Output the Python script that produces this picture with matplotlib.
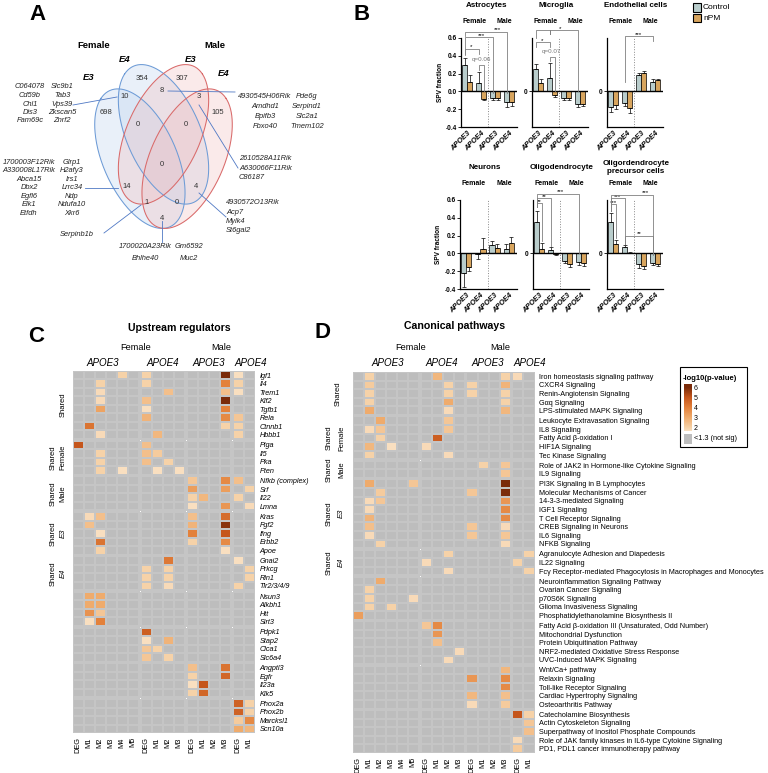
import numpy as np
import matplotlib
matplotlib.use('Agg')
import matplotlib.pyplot as plt
from matplotlib.colors import LinearSegmentedColormap, Normalize
from matplotlib.patches import Rectangle

plt.rcParams['font.family'] = ['Liberation Sans', 'DejaVu Sans']
plt.rcParams['axes.linewidth'] = 0.7

# ======================= DATA =======================
# ---- Panel A (Venn) ----
venn_sex = ['Female', 'Male']
venn_sets = ['E3', 'E4', 'E3', 'E4']
venn_counts = [698, 10, 354, 8, 307, 3, 105, 0, 0, 0, 14, 4, 1, 0, 4]
genes_10 = ['C064078', 'Cd59b', 'Chl1', 'Dis3', 'Fam69c',
            'Slc9b1', 'Tab3', 'Vps39', 'Zkscan5', 'Znrf2']
genes_8 = ['4930545H06Rik', 'Amdhd1', 'Bpifb3', 'Fbxo40',
           'Pde6g', 'Serpind1', 'Slc2a1', 'Tmem102']
genes_3 = ['2610528A11Rik', 'A630066F11Rik', 'C86187']
genes_14 = ['1700003F12Rik', 'A330008L17Rik', 'Abca15', 'Dbx2', 'Egfl6', 'Elk1', 'Etfdh',
            'Glrp1', 'H2afy3', 'Irs1', 'Lrrc34', 'Ndp', 'Ndufa10', 'Xkr6']
genes_1 = ['Serpinb1b']
genes_4r = ['4930572O13Rik', 'Acp7', 'Mylk4', 'St6gal2']
genes_4b = ['1700020A23Rik', 'Gm6592', 'Bhlhe40', 'Muc2']

# ---- Panel B (bars) ----
genotypes = ['APOE3', 'APOE4', 'APOE3', 'APOE4']
sexes = ['Female', 'Male']
treatments = ['Control', 'nPM']
cell_types = ['Astrocytes', 'Microglia', 'Endothelial cells',
              'Neurons', 'Oligodendrocyte', 'Oligordendrocyte\nprecursor cells']
astro_ctrl = [0.30, 0.09, -0.07, -0.12]
astro_ctrl_err = [0.08, 0.13, 0.03, 0.05]
astro_npm = [0.11, -0.09, -0.07, -0.12]
astro_npm_err = [0.07, 0.01, 0.03, 0.04]
micro_ctrl = [0.25, 0.15, -0.07, -0.14]
micro_ctrl_err = [0.06, 0.17, 0.03, 0.03]
micro_npm = [0.09, -0.04, -0.07, -0.14]
micro_npm_err = [0.05, 0.02, 0.03, 0.02]
endo_ctrl = [-0.18, -0.13, 0.18, 0.11]
endo_ctrl_err = [0.05, 0.03, 0.03, 0.03]
endo_npm = [-0.15, -0.19, 0.21, 0.13]
endo_npm_err = [0.05, 0.05, 0.02, 0.01]
neuro_ctrl = [-0.22, -0.01, 0.09, 0.05]
neuro_ctrl_err = [0.16, 0.05, 0.05, 0.05]
neuro_npm = [-0.15, 0.05, 0.06, 0.12]
neuro_npm_err = [0.05, 0.12, 0.04, 0.06]
oligo_ctrl = [0.35, 0.04, -0.08, -0.10]
oligo_ctrl_err = [0.13, 0.03, 0.03, 0.03]
oligo_npm = [0.05, -0.01, -0.12, -0.11]
oligo_npm_err = [0.07, 0.005, 0.03, 0.03]
opc_ctrl = [0.35, 0.07, -0.12, -0.11]
opc_ctrl_err = [0.10, 0.02, 0.04, 0.02]
opc_npm = [0.11, 0.01, -0.14, -0.12]
opc_npm_err = [0.04, 0.005, 0.03, 0.02]

# ---- Panels C/D (heatmaps) ----
hm_columns = ['DEG', 'M1', 'M2', 'M3', 'M4', 'M5', 'DEG', 'M1', 'M2', 'M3',
              'DEG', 'M1', 'M2', 'M3', 'DEG', 'M1']
hm_col_sizes = [6, 4, 4, 2]
hm_col_groups = ['APOE3', 'APOE4', 'APOE3', 'APOE4']
hm_group_labels = [('Shared', None), ('Shared', 'Female'), ('Shared', 'Male'),
                   ('Shared', 'E3'), ('Shared', 'E4'), None, None, None, None]

up_genes = ['Igf1', 'Il4', 'Trem1', 'Klf2', 'Tgfb1', 'Rela', 'Ctnnb1', 'Hbbb1',
            'Piga', 'Il5', 'Pka', 'Pten',
            'Nfkb (complex)', 'Srf', 'Il22', 'Lmna',
            'Kras', 'Fgf2', 'Ifng', 'Erbb2', 'Apoe',
            'Gnai2', 'Prkcg', 'Rln1', 'Tlr2/3/4/9',
            'Nsun3', 'Alkbh1', 'Htt', 'Sirt3',
            'Pdpk1', 'Stap2', 'Clca1', 'Slc6a4',
            'Angptl3', 'Egfr', 'Il23a', 'Klk5',
            'Phox2a', 'Phox2b', 'Marcksl1', 'Scn10a']
up_group_sizes = [8, 4, 4, 5, 4, 4, 4, 4, 4]
up_values = [
    [0, 0, 0, 0, 2.0, 0, 2.0, 0, 0, 0, 0, 0, 0, 6.0, 1.7, 0],
    [0, 0, 2.0, 0, 0, 0, 2.0, 0, 0, 0, 0, 0, 0, 4.0, 2.0, 0],
    [0, 0, 1.8, 0, 0, 0, 0, 0, 2.5, 0, 0, 0, 0, 2.5, 1.7, 0],
    [0, 0, 1.8, 0, 0, 0, 2.5, 0, 0, 0, 0, 0, 0, 6.0, 0, 0],
    [0, 0, 3.2, 0, 0, 0, 1.7, 0, 0, 0, 0, 0, 0, 4.0, 0, 0],
    [0, 0, 0, 0, 0, 0, 2.8, 0, 0, 0, 0, 0, 0, 3.8, 2.3, 0],
    [0, 4.3, 0, 0, 0, 0, 0, 0, 0, 0, 0, 0, 0, 2.0, 2.0, 0],
    [0, 0, 1.8, 0, 0, 0, 0, 2.7, 0, 0, 0, 0, 0, 0, 2.0, 0],
    [5.0, 0, 0, 0, 0, 0, 2.5, 0, 0, 0, 0, 0, 0, 0, 0, 0],
    [0, 0, 2.0, 0, 0, 0, 2.5, 2.2, 0, 0, 0, 0, 0, 0, 0, 0],
    [0, 0, 2.0, 0, 0, 0, 2.5, 0, 2.0, 0, 0, 0, 0, 0, 0, 0],
    [0, 0, 2.0, 0, 1.7, 0, 0, 1.7, 0, 1.7, 0, 0, 0, 0, 0, 0],
    [0, 0, 0, 0, 0, 0, 0, 0, 0, 0, 2.3, 0, 0, 3.8, 2.5, 0],
    [0, 0, 0, 0, 0, 0, 0, 0, 0, 0, 3.3, 0, 0, 3.3, 0, 2.0],
    [0, 0, 0, 0, 0, 0, 0, 0, 0, 0, 2.0, 2.7, 0, 0, 2.0, 0],
    [0, 0, 0, 0, 0, 0, 0, 0, 0, 0, 1.7, 0, 0, 3.5, 0, 1.8],
    [0, 1.8, 2.5, 0, 0, 0, 0, 0, 0, 0, 2.5, 0, 0, 4.5, 0, 0],
    [0, 2.5, 0, 0, 0, 0, 0, 0, 0, 0, 2.8, 0, 0, 5.8, 0, 0],
    [0, 0, 1.7, 0, 0, 0, 0, 0, 0, 0, 4.0, 0, 0, 5.0, 0, 0],
    [0, 0, 4.3, 0, 0, 0, 0, 0, 0, 0, 2.0, 0, 0, 3.8, 0, 0],
    [0, 0, 2.0, 0, 0, 0, 0, 0, 0, 0, 0, 0, 0, 1.7, 0, 0],
    [0, 0, 0, 0, 0, 0, 0, 0, 4.2, 0, 0, 0, 0, 0, 1.7, 0],
    [0, 0, 0, 0, 0, 0, 2.0, 0, 2.0, 0, 0, 0, 0, 0, 0, 2.0],
    [0, 0, 0, 0, 0, 0, 2.0, 0, 2.0, 0, 0, 0, 0, 0, 0, 2.0],
    [0, 0, 0, 0, 0, 0, 2.0, 0, 1.8, 0, 0, 0, 0, 0, 2.0, 0],
    [0, 3.0, 3.0, 0, 0, 0, 0, 0, 0, 0, 0, 0, 0, 0, 0, 0],
    [0, 3.0, 3.0, 0, 0, 0, 0, 0, 0, 0, 0, 0, 0, 0, 0, 0],
    [0, 3.6, 2.3, 0, 0, 0, 0, 0, 0, 0, 0, 0, 0, 0, 0, 0],
    [0, 1.7, 4.0, 0, 0, 0, 0, 0, 0, 0, 0, 0, 0, 0, 0, 0],
    [0, 0, 0, 0, 0, 0, 4.8, 0, 0, 0, 0, 0, 0, 0, 0, 0],
    [0, 0, 0, 0, 0, 0, 1.7, 0, 2.8, 0, 0, 0, 0, 0, 0, 0],
    [0, 0, 0, 0, 0, 0, 2.3, 2.0, 0, 0, 0, 0, 0, 0, 0, 0],
    [0, 0, 0, 0, 0, 0, 2.3, 0, 2.0, 0, 0, 0, 0, 0, 0, 0],
    [0, 0, 0, 0, 0, 0, 0, 0, 0, 0, 2.5, 0, 0, 4.3, 0, 0],
    [0, 0, 0, 0, 0, 0, 0, 0, 0, 0, 2.0, 0, 0, 4.6, 0, 0],
    [0, 0, 0, 0, 0, 0, 0, 0, 0, 0, 1.7, 5.0, 0, 0, 0, 0],
    [0, 0, 0, 0, 0, 0, 0, 0, 0, 0, 2.0, 4.6, 0, 0, 0, 0],
    [0, 0, 0, 0, 0, 0, 0, 0, 0, 0, 0, 0, 0, 0, 4.7, 2.0],
    [0, 0, 0, 0, 0, 0, 0, 0, 0, 0, 0, 0, 0, 0, 4.7, 2.0],
    [0, 0, 0, 0, 0, 0, 0, 0, 0, 0, 0, 0, 0, 0, 2.2, 3.8],
    [0, 0, 0, 0, 0, 0, 0, 0, 0, 0, 0, 0, 0, 0, 3.0, 2.7],
]

cp_pathways = [
    'Iron homeostasis signaling pathway', 'CXCR4 Signaling', 'Renin-Angiotensin Signaling',
    'G\u03b1q Signaling', 'LPS-stimulated MAPK Signaling',
    'Leukocyte Extravasation Signaling', 'IL8 Signaling', 'Fatty Acid \u03b2-oxidation I',
    'HIF1A Signaling', 'Tec Kinase Signaling',
    'Role of JAK2 in Hormone-like Cytokine Signaling', 'IL9 Signaling',
    'PI3K Signaling in B Lymphocytes', 'Molecular Mechanisms of Cancer', '14-3-3-mediated Signaling',
    'IGF1 Signaling', 'T Cell Receptor Signaling', 'CREB Signaling in Neurons', 'IL6 Signaling',
    'NFKB Signaling',
    'Agranulocyte Adhesion and Diapedesis', 'IL22 Signaling',
    'Fc\u03b3 Receptor-mediated Phagocytosis in Macrophages and Monocytes',
    'Neuroinflammation Signaling Pathway', 'Ovarian Cancer Signaling', 'p70S6K Signaling',
    'Glioma Invasiveness Signaling', 'Phosphatidylethanolamine Biosynthesis II',
    'Fatty Acid \u03b2-oxidation III (Unsaturated, Odd Number)', 'Mitochondrial Dysfunction',
    'Protein Ubiquitination Pathway', 'NRF2-mediated Oxidative Stress Response',
    'UVC-Induced MAPK Signaling',
    'Wnt/Ca+ pathway', 'Relaxin Signaling', 'Toll-like Receptor Signaling',
    'Cardiac Hypertrophy Signaling', 'Osteoarthritis Pathway',
    'Catecholamine Biosynthesis', 'Actin Cytoskeleton Signaling',
    'Superpathway of Inositol Phosphate Compounds',
    'Role of JAK family kinases in IL6-type Cytokine Signaling',
    'PD1, PDL1 cancer immunotherapy pathway']
cp_group_sizes = [5, 5, 2, 8, 3, 5, 5, 5, 5]
cp_values = [
    [0, 2.0, 0, 0, 0, 0, 0, 2.7, 0, 0, 0, 0, 0, 2.0, 1.8, 0],
    [0, 2.2, 0, 0, 0, 0, 0, 0, 2.0, 0, 2.0, 0, 0, 2.8, 0, 0],
    [0, 2.0, 0, 0, 0, 0, 0, 0, 2.0, 0, 2.0, 0, 0, 2.0, 0, 0],
    [0, 2.0, 0, 0, 0, 0, 0, 0, 3.0, 0, 0, 0, 0, 2.0, 0, 0],
    [0, 3.0, 0, 0, 0, 0, 0, 0, 1.8, 0, 0, 0, 0, 2.7, 0, 0],
    [0, 0, 3.0, 0, 0, 0, 0, 0, 2.3, 0, 0, 0, 0, 0, 0, 0],
    [0, 1.8, 2.3, 0, 0, 0, 0, 0, 2.3, 0, 0, 0, 0, 0, 0, 0],
    [0, 0, 2.0, 0, 0, 0, 0, 4.8, 0, 0, 0, 0, 0, 0, 0, 0],
    [0, 2.7, 0, 1.7, 0, 0, 1.8, 0, 0, 0, 0, 0, 0, 0, 0, 0],
    [0, 2.0, 0, 0, 0, 0, 0, 0, 1.8, 0, 0, 0, 0, 0, 0, 0],
    [0, 0, 0, 0, 0, 0, 0, 0, 0, 0, 0, 2.0, 0, 2.3, 0, 0],
    [0, 0, 0, 0, 0, 0, 0, 0, 0, 0, 0, 0, 0, 2.3, 0, 0],
    [0, 3.0, 0, 0, 0, 2.3, 0, 0, 0, 0, 0, 0, 0, 6.0, 0, 0],
    [0, 0, 2.2, 0, 0, 0, 0, 0, 0, 0, 2.3, 0, 0, 6.0, 0, 0],
    [0, 1.8, 2.3, 0, 0, 0, 0, 0, 0, 0, 0, 0, 0, 3.5, 0, 0],
    [0, 1.8, 0, 0, 0, 0, 0, 0, 0, 0, 0, 0, 0, 3.8, 0, 0],
    [0, 2.8, 0, 0, 0, 0, 0, 0, 0, 0, 0, 0, 0, 3.8, 0, 0],
    [0, 2.5, 0, 0, 0, 0, 0, 0, 0, 0, 2.3, 0, 0, 1.8, 0, 0],
    [0, 1.8, 0, 0, 0, 0, 0, 0, 0, 0, 2.3, 0, 0, 2.3, 0, 0],
    [0, 0, 2.0, 0, 0, 0, 0, 0, 0, 0, 0, 0, 0, 1.8, 0, 0],
    [0, 0, 0, 0, 0, 0, 0, 0, 2.0, 0, 0, 0, 0, 0, 0, 2.0],
    [0, 0, 0, 0, 0, 0, 1.8, 0, 0, 0, 0, 0, 0, 0, 2.0, 0],
    [0, 0, 0, 0, 0, 0, 0, 0, 1.8, 0, 0, 0, 0, 0, 0, 2.0],
    [0, 0, 3.0, 0, 0, 0, 0, 0, 0, 0, 0, 0, 0, 0, 0, 0],
    [0, 2.0, 0, 0, 0, 0, 0, 0, 0, 0, 0, 0, 0, 0, 0, 0],
    [0, 2.0, 0, 0, 0, 1.8, 0, 0, 0, 0, 0, 0, 0, 0, 0, 0],
    [0, 2.0, 0, 2.0, 0, 0, 0, 0, 0, 0, 0, 0, 0, 0, 0, 0],
    [3.3, 0, 0, 0, 0, 0, 0, 0, 0, 0, 0, 0, 0, 0, 0, 0],
    [0, 0, 0, 0, 0, 0, 2.3, 3.8, 0, 0, 0, 0, 0, 0, 0, 0],
    [0, 0, 0, 0, 0, 0, 0, 3.5, 0, 0, 0, 0, 0, 0, 0, 0],
    [0, 0, 0, 0, 0, 0, 0, 2.5, 0, 0, 0, 0, 0, 0, 0, 0],
    [0, 0, 0, 0, 0, 0, 0, 0, 0, 1.8, 0, 0, 0, 0, 0, 0],
    [0, 0, 0, 0, 0, 0, 0, 0, 1.8, 0, 0, 0, 0, 0, 0, 0],
    [0, 0, 0, 0, 0, 0, 0, 0, 0, 0, 0, 0, 0, 2.7, 0, 0],
    [0, 0, 0, 0, 0, 0, 0, 0, 0, 0, 3.5, 0, 0, 3.8, 0, 0],
    [0, 0, 0, 0, 0, 0, 0, 0, 0, 0, 0, 0, 0, 3.8, 0, 0],
    [0, 0, 0, 0, 0, 0, 0, 0, 0, 0, 2.7, 0, 0, 2.5, 0, 0],
    [0, 0, 0, 0, 0, 0, 0, 0, 0, 0, 1.8, 0, 0, 2.2, 0, 0],
    [0, 0, 0, 0, 0, 0, 0, 0, 0, 0, 0, 0, 0, 0, 5.0, 2.0],
    [0, 0, 0, 0, 0, 0, 0, 0, 0, 0, 0, 0, 0, 0, 0, 2.3],
    [0, 0, 0, 0, 0, 0, 0, 0, 0, 0, 0, 0, 0, 0, 0, 2.5],
    [0, 0, 0, 0, 0, 0, 0, 0, 0, 0, 0, 0, 0, 0, 1.8, 0],
    [0, 0, 0, 0, 0, 0, 0, 0, 0, 0, 0, 0, 0, 0, 2.2, 0],
]
legend_ticks = [2, 3, 4, 5, 6]

# ======================= LAYOUT =======================
W, H = 768, 773
fig = plt.figure(figsize=(W / 100, H / 100), dpi=100)


def px_axes(x0, y0, x1, y1, **kw):
    return fig.add_axes([x0 / W, 1 - y1 / H, (x1 - x0) / W, (y1 - y0) / H], **kw)


ov = px_axes(0, 0, W, H, zorder=10)
ov.set_xlim(0, W)
ov.set_ylim(H, 0)
ov.axis('off')
ov.patch.set_alpha(0)


def T(x, y, s, **kw):
    kw.setdefault('ha', 'center')
    kw.setdefault('va', 'center')
    ov.text(x, y, s, **kw)


# panel letters
for lab, (x, y) in zip('ABCD', [(37, 15), (362, 15), (36, 336), (322, 333)]):
    T(x, y, lab, fontsize=16, fontweight='bold')

# ---------------- Panel A: Venn ----------------
def venn_px(u, v):
    return 95 + (u - 0.065) / 0.87 * 137, 65 + (0.855 - v) / 0.67 * 163


tt = np.linspace(0, 2 * np.pi, 300)
r2 = np.sqrt(0.5)
ell = [(0.35, 0.47, -1, '#6d9bd6', '#b9d0ee'), (0.50, 0.57, -1, '#6d9bd6', '#b9d0ee'),
       (0.50, 0.57, 1, '#d96a6a', '#f1baba'), (0.65, 0.47, 1, '#d96a6a', '#f1baba')]
for cx, cy, s, ec, fc in ell:
    u = cx + 0.35 * np.cos(tt) * s * r2 + 0.205 * np.sin(tt) * r2
    v = cy + 0.35 * np.cos(tt) * r2 - 0.205 * np.sin(tt) * s * r2
    px, py = venn_px(u, v)
    ov.fill(px, py, facecolor=fc, alpha=0.3, edgecolor='none')
    ov.plot(px, py, color=ec, lw=0.75)

count_pos = [(106, 113), (125, 97), (142, 79), (162, 91), (182, 79), (199, 97), (218, 113),
             (138, 125), (186, 125), (162, 164), (127, 187), (196, 187), (147, 203),
             (177, 203), (162, 218)]
for c, (x, y) in zip(venn_counts, count_pos):
    T(x, y, str(c), fontsize=5.5, color='#333333')

T(94, 45, venn_sex[0], fontsize=6.8, fontweight='bold')
T(215, 45, venn_sex[1], fontsize=6.8, fontweight='bold')
for s, (x, y) in zip(venn_sets, [(89, 77), (125, 60), (191, 60), (224, 73)]):
    T(x, y, s, fontsize=6.8, fontweight='bold', style='italic')

gkw = dict(fontsize=5.4, style='italic', color='#222222')
for i, g in enumerate(genes_10):
    T(30 if i < 5 else 62, 87 + (i % 5) * 8.5, g, **gkw)
for i, g in enumerate(genes_8):
    T(265 if i < 4 else 307, 96 + (i % 4) * 10.3, g, **gkw)
for i, g in enumerate(genes_3):
    T(239, 159 + i * 9.3, g, ha='left', **gkw)
for i, g in enumerate(genes_14):
    T(29 if i < 7 else 72, 162 + (i % 7) * 8.6, g, **gkw)
T(77, 234, genes_1[0], **gkw)
for i, g in enumerate(genes_4r):
    T(226, 203 + i * 9.3, g, ha='left', **gkw)
for i, g in enumerate(genes_4b):
    T(145 if i % 2 == 0 else 189, 247 + (i // 2) * 12, g, **gkw)

lc = '#4f78c4'
for (x1, y1), (x2, y2) in [((73, 105), (117, 97)), ((168, 91), (235, 92)),
                           ((199, 105), (238, 168)), ((85, 188), (118, 188)),
                           ((104, 233), (141, 205)), ((199, 193), (226, 217)),
                           ((162, 221), (162, 242))]:
    ov.plot([x1, x2], [y1, y2], color=lc, lw=0.6)

# ---------------- Panel B: bars ----------------
ctrl_color = '#b9cdcc'
npm_color = '#d8a55e'
bw = 0.36
brk_color = '#808080'

bar_panels = [
    (cell_types[0], astro_ctrl, astro_ctrl_err, astro_npm, astro_npm_err, (461, 38, 517, 127), True, 1.36,
     [(-0.18, 0.82, 0.48, 0.42, 0.42, '*', 0.32, 0.5, 'k'),
      (0.82, 1.18, 0.30, 0.24, 0.0, 'q=0.06', 1.0, 0.355, '#777777'),
      (-0.18, 1.82, 0.61, 0.41, -0.02, '***', 1.05, 0.63, 'k'),
      (-0.18, 2.82, 0.67, 0.62, -0.02, '***', 2.2, 0.69, 'k')]),
    (cell_types[1], micro_ctrl, micro_ctrl_err, micro_npm, micro_npm_err, (532, 38, 588, 127), False, 1.28,
     [(-0.18, 2.82, 0.69, 0.60, 0.0, '*', 1.6, 0.71, 'k'),
      (0.82, 0.82, 0.69, 0.64, 0.64, '', 0, 0, 'k'),
      (-0.18, 0.82, 0.55, 0.50, 0.50, '*', 0.32, 0.57, 'k'),
      (0.82, 1.18, 0.39, 0.34, 0.0, 'q=0.07', 0.95, 0.445, '#777777')]),
    (cell_types[2], endo_ctrl, endo_ctrl_err, endo_npm, endo_npm_err, (607, 38, 663, 127), False, 1.64,
     [(0.82, 2.82, 0.62, 0.10, 0.57, '***', 1.8, 0.64, 'k')]),
    (cell_types[3], neuro_ctrl, neuro_ctrl_err, neuro_npm, neuro_npm_err, (460, 200, 517, 289), True, 1.28, []),
    (cell_types[4], oligo_ctrl, oligo_ctrl_err, oligo_npm, oligo_npm_err, (533, 200, 589, 289), False, 1.64,
     [(-0.18, 2.82, 0.67, 0.52, 0.0, '***', 1.5, 0.69, 'k'),
      (-0.18, 0.82, 0.62, 0.52, 0.08, '**', 0.35, 0.635, 'k'),
      (-0.18, 0.18, 0.57, 0.52, 0.14, '**', 0.05, 0.585, 'k')]),
    (cell_types[5], opc_ctrl, opc_ctrl_err, opc_npm, opc_npm_err, (607, 200, 663, 289), False, 1.64,
     [(-0.18, 2.82, 0.66, 0.48, 0.0, '***', 2.3, 0.68, 'k'),
      (-0.18, 0.82, 0.62, 0.48, 0.10, '***', 0.3, 0.635, 'k'),
      (-0.18, 0.18, 0.56, 0.48, 0.17, '***', 0.05, 0.575, 'k'),
      (0.82, 2.82, 0.20, 0.10, -0.02, '**', 1.9, 0.225, 'k')]),
]

for title, c, ce, n, ne, box, full, tx, brks in bar_panels:
    ax = px_axes(*box)
    x = np.arange(len(genotypes))
    for vals, errs, off, col in [(c, ce, -bw / 2, ctrl_color), (n, ne, bw / 2, npm_color)]:
        vals = np.asarray(vals)
        errs = np.asarray(errs)
        yerr = np.vstack([np.where(vals < 0, errs, 0), np.where(vals >= 0, errs, 0)])
        ax.bar(x + off, vals, bw, color=col, edgecolor='black', linewidth=0.5, yerr=yerr,
               error_kw=dict(elinewidth=0.5, capsize=1.2, capthick=0.5, ecolor='black'), zorder=2)
    ax.axhline(0, color='black', lw=1.0, zorder=3)
    ax.axvline(1.5, color='#888888', lw=0.7, ls=':', zorder=1)
    ax.set_xlim(-0.43, 3.57)
    ax.set_ylim(-0.4, 0.6)
    for sp in ['top', 'right']:
        ax.spines[sp].set_visible(False)
    ax.spines['left'].set_linewidth(0.9)
    ax.spines['bottom'].set_linewidth(0.9)
    ax.set_xticks(x)
    ax.set_xticklabels(genotypes, rotation=45, ha='right', rotation_mode='anchor',
                       fontsize=5.3, style='italic', fontweight='bold')
    ax.tick_params(axis='x', length=0, pad=2)
    if full:
        ticks = [-0.4, -0.2, 0.0, 0.2, 0.4, 0.6]
        ax.set_yticks(ticks)
        ax.set_yticklabels(['%.1f' % t for t in ticks], fontsize=4.7, fontweight='bold')
        ax.set_ylabel('SPV fraction', fontsize=4.7, fontweight='bold', labelpad=1.5)
    else:
        ax.set_yticks([0])
        ax.set_yticklabels(['0'], fontsize=4.7, fontweight='bold')
    ax.tick_params(axis='y', length=2, width=0.6, pad=1)
    ax.text(tx, 0.965, title, ha='center', va='center', fontsize=5.8, fontweight='bold',
            linespacing=1.15)
    ax.text(0.55, 0.78, sexes[0], ha='center', va='center', fontsize=5, fontweight='bold')
    ax.text(2.65, 0.78, sexes[1], ha='center', va='center', fontsize=5, fontweight='bold')
    for x1, x2, y, y1, y2, lab, lx, ly, lcol in brks:
        ax.plot([x1, x1, x2, x2], [y1, y, y, y2], color=brk_color, lw=0.6, clip_on=False, zorder=4)
        if lab:
            ax.text(lx, ly, lab, ha='center', va='center', fontsize=4.5, color=lcol, clip_on=False)

# legend for B
ov.add_patch(Rectangle((693, 3), 8, 8.5, facecolor=ctrl_color, edgecolor='black', lw=0.8))
ov.add_patch(Rectangle((693, 13.5), 8, 8.5, facecolor=npm_color, edgecolor='black', lw=0.8))
T(703, 7.5, treatments[0], ha='left', fontsize=6)
T(703, 18, treatments[1], ha='left', fontsize=6)

# ---------------- Panels C & D: heatmaps ----------------
hm_cmap = LinearSegmentedColormap.from_list(
    'ipa', [(0.0, '#fbe7cf'), (0.111, '#f6d2a8'), (0.333, '#efab6c'),
            (0.556, '#e3813b'), (0.778, '#c6561c'), (1.0, '#7a2b0a')])
hm_cmap = hm_cmap.with_extremes(under='#bdbdbd')
hm_norm = Normalize(vmin=1.5, vmax=6.0)


def heatmap(box, values, row_labels, row_sizes, gap_r, gap_c, italic, gx_single, gx1, gx2):
    ax = px_axes(*box)
    vals = np.asarray(values, float)
    col_off = np.concatenate([[0], np.cumsum(hm_col_sizes)])
    row_off = np.concatenate([[0], np.cumsum(row_sizes)])
    col_centers = []
    for b, n in enumerate(hm_col_sizes):
        x0 = col_off[b] + b * gap_c
        xe = x0 + np.arange(n + 1)
        col_centers += list(x0 + np.arange(n) + 0.5)
        for g, m in enumerate(row_sizes):
            y0 = row_off[g] + g * gap_r
            ye = y0 + np.arange(m + 1)
            sub = vals[row_off[g]:row_off[g + 1], col_off[b]:col_off[b + 1]]
            ax.pcolormesh(xe, ye, sub, cmap=hm_cmap, norm=hm_norm,
                          edgecolors='#c5c5c5', linewidth=0.25)
    row_centers = []
    for g, m in enumerate(row_sizes):
        y0 = row_off[g] + g * gap_r
        row_centers += list(y0 + np.arange(m) + 0.5)
        lab = hm_group_labels[g]
        if lab is None:
            continue
        yc = y0 + m / 2
        if lab[1] is None:
            ax.text(gx_single, yc, lab[0], rotation=90, ha='center', va='center',
                    fontsize=5.5, clip_on=False)
        else:
            ax.text(gx1, yc, lab[0], rotation=90, ha='center', va='center', fontsize=5.5, clip_on=False)
            ax.text(gx2, yc, lab[1], rotation=90, ha='center', va='center', fontsize=5.5,
                    style='italic' if lab[1] in ('E3', 'E4') else 'normal', clip_on=False)
    ax.set_xlim(0, col_off[-1] + (len(hm_col_sizes) - 1) * gap_c)
    ax.set_ylim(row_off[-1] + (len(row_sizes) - 1) * gap_r, 0)
    for sp in ax.spines.values():
        sp.set_visible(False)
    ax.set_xticks(col_centers)
    ax.set_xticklabels(hm_columns, rotation=90, fontsize=5.3)
    ax.tick_params(axis='x', length=0, pad=3)
    ax.yaxis.tick_right()
    ax.set_yticks(row_centers)
    ax.set_yticklabels(row_labels, fontsize=5.2, style='italic' if italic else 'normal')
    ax.tick_params(axis='y', length=0, pad=3.5)
    return ax


heatmap((72.7, 371, 254.7, 733), up_values, up_genes, up_group_sizes, 0.2, 0.18, True,
        -0.88, -1.75, -0.88)
heatmap((352.5, 372, 534.5, 753), cp_values, cp_pathways, cp_group_sizes, 0.16, 0.18, False,
        -1.3, -2.15, -1.0)

# headers C
T(179, 328, 'Upstream regulators', fontsize=7.6, fontweight='bold')
T(136, 348, sexes[0], fontsize=6.6)
T(221, 348, sexes[1], fontsize=6.6)
for s, x in zip(hm_col_groups, [103, 163, 209, 251]):
    T(x, 363, s, fontsize=7, style='italic')
# headers D
T(455, 326, 'Canonical pathways', fontsize=7.6, fontweight='bold')
T(411, 347, sexes[0], fontsize=6.6)
T(500, 347, sexes[1], fontsize=6.6)
for s, x in zip(hm_col_groups, [388, 442, 488, 530]):
    T(x, 363, s, fontsize=7, style='italic')

# legend D
ov.add_patch(Rectangle((680, 367), 67, 80, facecolor='white', edgecolor='black', lw=0.8, zorder=1))
T(683, 378, '-log10(p-value)', ha='left', fontsize=5.5, fontweight='bold', zorder=2)
cax = px_axes(684, 384, 692, 431, zorder=12)
grad = np.linspace(6.4, 1.7, 120)[:, None]
cax.imshow(grad, aspect='auto', cmap=hm_cmap, norm=hm_norm, extent=[0, 1, 1.7, 6.4], origin='upper')
cax.set_xticks([])
cax.yaxis.tick_right()
cax.set_yticks(legend_ticks)
cax.set_yticklabels([str(t) for t in legend_ticks], fontsize=5)
cax.tick_params(axis='y', length=0, pad=1.5)
for sp in cax.spines.values():
    sp.set_visible(False)
ov.add_patch(Rectangle((684, 434), 8, 10, facecolor='#bdbdbd', edgecolor='none', zorder=2))
T(694, 439, '<1.3 (not sig)', ha='left', fontsize=5.3, zorder=2)

fig.savefig('out.png', dpi=100)
